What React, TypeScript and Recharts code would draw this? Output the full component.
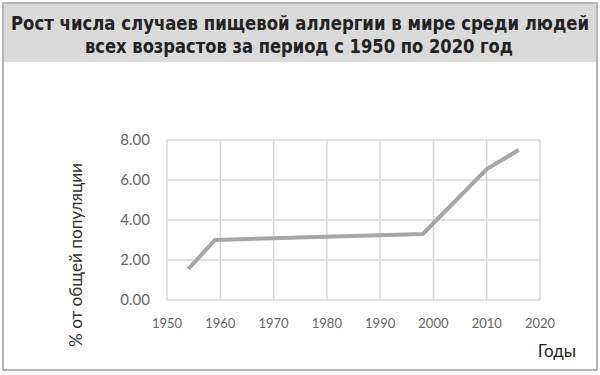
import React from 'react';
import { LineChart, Line, XAxis, YAxis, CartesianGrid } from 'recharts';

const years = [1954, 1959, 1998, 2010, 2016];
const shares = [1.55, 3.0, 3.3, 6.55, 7.5];
const xTicks = [1950, 1960, 1970, 1980, 1990, 2000, 2010, 2020];
const yTicks = [0, 2, 4, 6, 8];
const titleLines = [
  'Рост числа случаев пищевой аллергии в мире среди людей',
  'всех возрастов за период с 1950 по 2020 год',
];
const yLabel = '% от общей популяции';
const xLabel = 'Годы';

const data = years.map((year, i) => ({ year, share: shares[i] }));

const titleFont = "'DejaVu Sans Condensed', 'Liberation Sans Narrow', sans-serif";

export default function App() {
  return (
    <div style={{ position: 'absolute', left: 0, top: 0, width: 600, height: 375, background: '#fff' }}>
      <svg width={600} height={375} style={{ position: 'absolute', left: 0, top: 0 }}>
        <rect x={3} y={3} width={594} height={367} fill="#fff" stroke="#9c9c9c" strokeWidth={1.5} />
        <rect x={4} y={4} width={592} height={58} fill="#dadada" />
        <text x={300} y={30} textAnchor="middle" fontFamily={titleFont} fontWeight="bold" fontSize={19.5} fill="#222" textLength={578} lengthAdjust="spacingAndGlyphs">{titleLines[0]}</text>
        <text x={299} y={53} textAnchor="middle" fontFamily={titleFont} fontWeight="bold" fontSize={19.5} fill="#222" textLength={428} lengthAdjust="spacingAndGlyphs">{titleLines[1]}</text>
      </svg>
      <div style={{ position: 'absolute', left: 0, top: 0 }}>
        <LineChart width={600} height={375} data={data} margin={{ top: 140, right: 60, bottom: 45, left: 107 }}>
          <CartesianGrid stroke="#d9d9d9" strokeWidth={1.5} />
          <XAxis
            dataKey="year"
            type="number"
            domain={[1950, 2020]}
            ticks={xTicks}
            axisLine={false}
            tickLine={false}
            tickMargin={13}
            height={30}
            interval={0}
            tick={{ fill: '#666', fontSize: 13, fontFamily: 'Lato, sans-serif' }}
          />
          <YAxis
            type="number"
            domain={[0, 8]}
            ticks={yTicks}
            axisLine={false}
            tickLine={false}
            tickMargin={11}
            width={60}
            interval={0}
            tickFormatter={(v: number) => v.toFixed(2)}
            tick={{ fill: '#666', fontSize: 15, fontFamily: 'Lato, sans-serif' }}
          />
          <Line dataKey="share" stroke="#a6a6a6" strokeWidth={4} dot={false} isAnimationActive={false} />
        </LineChart>
      </div>
      <svg width={600} height={375} style={{ position: 'absolute', left: 0, top: 0, pointerEvents: 'none' }}>
        <text transform="translate(82,255) rotate(-90)" textAnchor="middle" fontFamily="Lato, sans-serif" fontSize={17} fill="#333" textLength={184} lengthAdjust="spacingAndGlyphs">{yLabel}</text>
        <text x={557} y={357} textAnchor="middle" fontFamily="Lato, sans-serif" fontSize={17} fill="#222">{xLabel}</text>
      </svg>
    </div>
  );
}
